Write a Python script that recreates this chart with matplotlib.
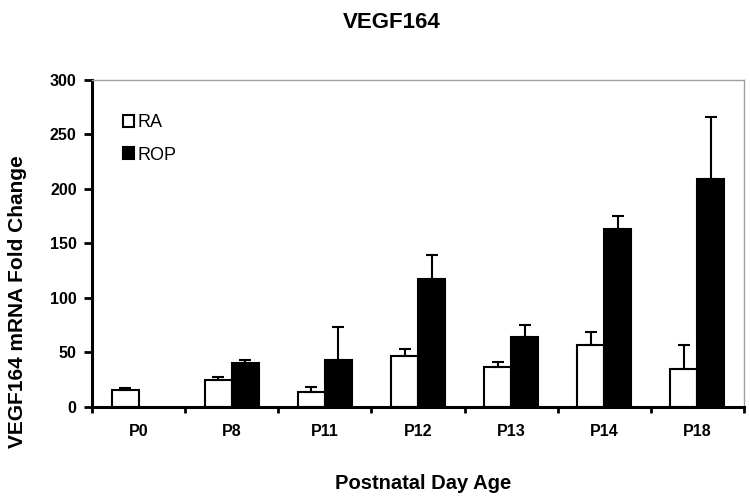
import matplotlib
matplotlib.use("Agg")
import matplotlib.pyplot as plt
import numpy as np
from matplotlib.patches import Patch

# ────────────────────────────────────────
#   Data
# ────────────────────────────────────────
days = ["P0", "P8", "P11", "P12", "P13", "P14", "P18"]
ra_mean = [15.5, 24.5, 14, 47, 37, 57, 35]
ra_err = [1.5, 3, 4, 6.5, 4.5, 12, 21.5]
rop_mean = [np.nan, 40.5, 43.5, 117, 64, 163, 209.5]
rop_err = [np.nan, 3, 29.5, 22.5, 11, 12, 57]

plt.rcParams["font.family"] = ["Liberation Sans", "DejaVu Sans"]

fig = plt.figure(figsize=(7.5, 4.99), dpi=100)
ax = fig.add_axes([0.1227, 0.1844, 0.8693, 0.6553])

x = np.arange(len(days))
w = 0.29
err_kw = dict(ecolor="black", elinewidth=1.5, capsize=4.5, capthick=1.5)

ax.bar(x - w / 2, ra_mean, w, color="white", edgecolor="black", linewidth=1.5,
       yerr=[np.zeros(len(days)), ra_err], error_kw=err_kw, zorder=2)
ax.bar(x + w / 2, rop_mean, w, color="black", edgecolor="black", linewidth=1.5,
       yerr=[np.zeros(len(days)), rop_err], error_kw=err_kw, zorder=2)

ax.set_xlim(-0.5, len(days) - 0.5)
ax.set_ylim(0, 300)
ax.set_yticks(range(0, 301, 50))
ax.set_xticks(x)
ax.set_xticklabels(days)
ax.set_xticks(np.arange(-0.5, len(days)), minor=True)

# spines: heavy black left/bottom, thin gray top/right
for s in ("left", "bottom"):
    ax.spines[s].set_linewidth(2.2)
    ax.spines[s].set_color("black")
for s in ("top", "right"):
    ax.spines[s].set_linewidth(1.0)
    ax.spines[s].set_color("#a0a0a0")

ax.tick_params(axis="y", direction="out", length=6, width=2, pad=5,
               labelsize=11.5)
ax.tick_params(axis="x", which="major", length=0, pad=12, labelsize=11.5)
ax.tick_params(axis="x", which="minor", direction="out", length=4, width=2)
for lbl in ax.get_xticklabels() + ax.get_yticklabels():
    lbl.set_fontweight("bold")

fig.text(0.522, 0.955, "VEGF164", ha="center", va="center",
         fontsize=16, fontweight="bold")
fig.text(0.024, 0.395, "VEGF164 mRNA Fold Change", ha="center", va="center",
         rotation=90, fontsize=15, fontweight="bold")
fig.text(0.564, 0.032, "Postnatal Day Age", ha="center", va="center",
         fontsize=14.5, fontweight="bold")

handles = [Patch(facecolor="white", edgecolor="black", linewidth=1.5, label="RA"),
           Patch(facecolor="black", edgecolor="black", linewidth=1.5, label="ROP")]
ax.legend(handles=handles, loc="upper left", bbox_to_anchor=(0.022, 0.945),
          frameon=False, fontsize=13, handlelength=0.65, handleheight=0.65,
          handletextpad=0.2, labelspacing=0.85)

fig.savefig("out.png", dpi=100)
